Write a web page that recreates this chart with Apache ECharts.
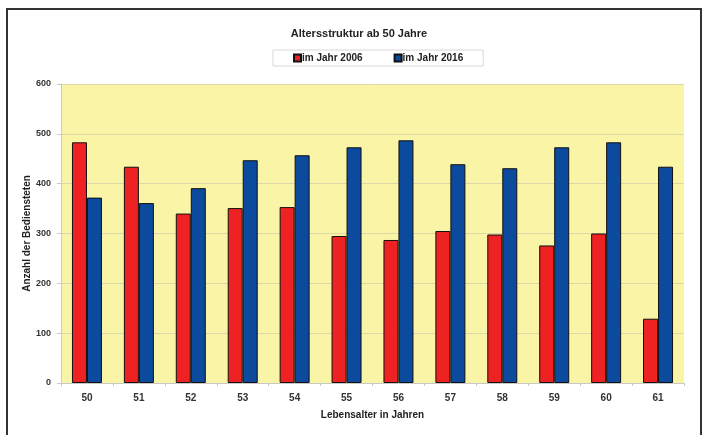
<!DOCTYPE html>
<html>
<head>
<meta charset="utf-8">
<script src="https://cdn.jsdelivr.net/npm/echarts@6/dist/echarts.min.js"></script>
<style>
  html, body { margin: 0; padding: 0; background: #ffffff; }
  #chart { width: 707px; height: 435px; }
</style>
</head>
<body>
<div id="chart"></div>
<script>
// Age groups (years) and staff counts per year
const categories = ['50', '51', '52', '53', '54', '55', '56', '57', '58', '59', '60', '61'];
const values2006 = [483, 434, 340, 351, 353, 295, 287, 305, 298, 276, 300, 129];
const values2016 = [372, 361, 391, 447, 457, 473, 487, 439, 431, 473, 483, 434];
const yTicks = [0, 100, 200, 300, 400, 500, 600];

const FONT = '"Liberation Sans", Arial, sans-serif';
const RED = '#ee2222';
const BLUE = '#0b4a9c';

const chart = echarts.init(document.getElementById('chart'), null, { renderer: 'canvas' });

chart.setOption({
  animation: false,
  backgroundColor: '#ffffff',
  textStyle: { fontFamily: FONT },
  graphic: [
    {
      type: 'rect',
      shape: { x: 7, y: 9, width: 694, height: 440 },
      style: { fill: 'none', stroke: '#333333', lineWidth: 2 },
      z: 0
    }
  ],
  title: {
    text: 'Altersstruktur ab 50 Jahre',
    left: 354,
    textAlign: 'center',
    top: 23,
    textStyle: { fontFamily: FONT, fontSize: 11, fontWeight: 'bold', color: '#222222' }
  },
  legend: {
    data: ['im Jahr 2006', 'im Jahr 2016'],
    left: 273,
    top: 50,
    width: 204,
    padding: [3, 20, 3, 20],
    itemGap: 31,
    itemWidth: 7,
    itemHeight: 7,
    icon: 'rect',
    borderColor: '#d8d8d8',
    borderWidth: 1,
    backgroundColor: '#ffffff',
    textStyle: { fontFamily: FONT, fontSize: 10, fontWeight: 'bold', color: '#222222', padding: [0, 0, 0, -4] }
  },
  grid: {
    left: 61,
    right: 23,
    top: 84,
    bottom: 52,
    show: true,
    backgroundColor: '#faf5a6',
    borderWidth: 0
  },
  xAxis: {
    type: 'category',
    data: categories,
    name: 'Lebensalter in Jahren',
    nameLocation: 'middle',
    nameGap: 27,
    nameTextStyle: { fontFamily: FONT, fontSize: 10, fontWeight: 'bold', color: '#222222' },
    axisLine: { lineStyle: { color: '#c8c8c8', width: 1 } },
    axisTick: { show: true, alignWithLabel: false, length: 3, lineStyle: { color: '#c8c8c8' } },
    axisLabel: { fontFamily: FONT, fontSize: 10, fontWeight: 'bold', color: '#333333', margin: 10 }
  },
  yAxis: {
    type: 'value',
    min: yTicks[0],
    max: yTicks[yTicks.length - 1],
    interval: 100,
    name: 'Anzahl der Bediensteten',
    nameLocation: 'middle',
    nameGap: 29,
    nameMoveOverlap: false,
    nameTextStyle: { fontFamily: FONT, fontSize: 10, fontWeight: 'bold', color: '#222222' },
    axisLine: { show: true, lineStyle: { color: '#c8c8d8', width: 1 } },
    axisTick: { show: true, length: 4, lineStyle: { color: '#c8c8c8' } },
    axisLabel: { fontFamily: FONT, fontSize: 9, fontWeight: 'bold', color: '#333333', margin: 10 },
    splitLine: { show: true, lineStyle: { color: '#ddd8a8', width: 1 } }
  },
  series: [
    {
      name: 'im Jahr 2006',
      type: 'bar',
      data: values2006,
      barWidth: 15,
      barGap: '0%',
      itemStyle: { color: RED, borderColor: '#111111', borderWidth: 1 }
    },
    {
      name: 'im Jahr 2016',
      type: 'bar',
      data: values2016,
      barWidth: 15,
      barGap: '0%',
      itemStyle: { color: BLUE, borderColor: '#111111', borderWidth: 1 }
    }
  ]
});
</script>
</body>
</html>
